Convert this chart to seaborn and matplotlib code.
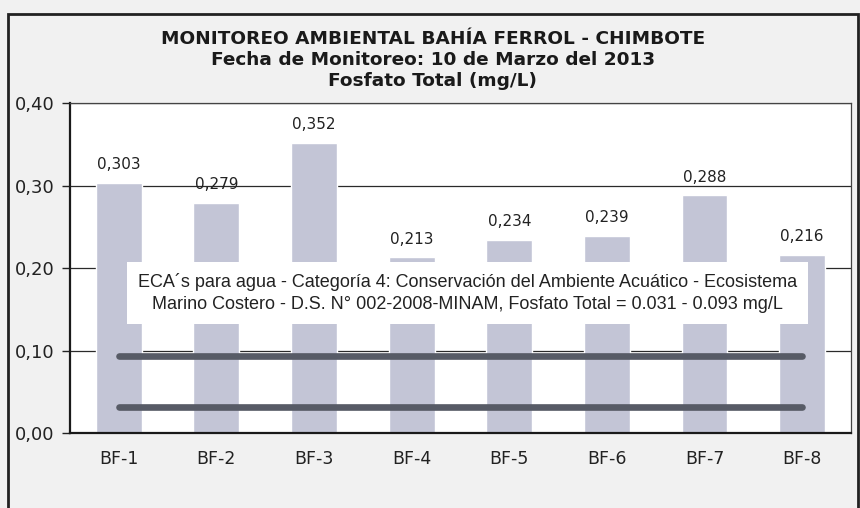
import matplotlib
matplotlib.use("Agg")
import matplotlib.pyplot as plt
from matplotlib.patches import Rectangle
from matplotlib.ticker import FixedLocator, FuncFormatter
import seaborn as sns
import pandas as pd

# station data
stations = ["BF-1", "BF-2", "BF-3", "BF-4", "BF-5", "BF-6", "BF-7", "BF-8"]
fosfato = [0.303, 0.279, 0.352, 0.213, 0.234, 0.239, 0.288, 0.216]

# ECA limits (mg/L)
eca_min = 0.031
eca_max = 0.093

y_ticks = [0.0, 0.1, 0.2, 0.3, 0.4]

title_lines = [
    "MONITOREO AMBIENTAL BAHÍA FERROL - CHIMBOTE",
    "Fecha de Monitoreo: 10 de Marzo del 2013",
    "Fosfato Total (mg/L)",
]
eca_note = (
    "ECA´s para agua - Categoría 4: Conservación del Ambiente Acuático - Ecosistema\n"
    "Marino Costero - D.S. N° 002-2008-MINAM, Fosfato Total = 0.031 - 0.093 mg/L"
)

df = pd.DataFrame({"station": stations, "fosfato": fosfato})

sns.set_style("white")
plt.rcParams["font.family"] = ["DejaVu Sans"]

fig = plt.figure(figsize=(8.6, 5.08), dpi=100, facecolor="#f1f1f1")
ax = fig.add_axes([0.0814, 0.1476, 0.9081, 0.6494])
ax.set_facecolor("white")

sns.barplot(data=df, x="station", y="fosfato", color="#c3c5d6", width=0.47,
            saturation=1, ax=ax, zorder=2)

# value labels
for i, v in enumerate(fosfato):
    ax.text(i, v + 0.013, f"{v:.3f}".replace(".", ","), ha="center", va="bottom",
            fontsize=11, color="#222222", zorder=4)

# ECA limit lines
xs = list(range(len(stations)))
for lim in [eca_max, eca_min]:
    ax.plot(xs, [lim] * len(xs), color="#575b66", lw=4.8,
            solid_capstyle="round", zorder=3)

ax.text(3.57, 0.170, eca_note, ha="center", va="center", fontsize=13,
        family="Liberation Sans", color="#222222", linespacing=1.4, zorder=5,
        bbox=dict(boxstyle="square,pad=0.6", fc="white", ec="none"))

ax.set_ylim(0, 0.4)
ax.set_xlim(-0.5, len(stations) - 0.5)
ax.yaxis.set_major_locator(FixedLocator(y_ticks))
ax.yaxis.set_major_formatter(FuncFormatter(lambda v, p: f"{v:.2f}".replace(".", ",")))
ax.grid(axis="y", color="#2a2a2a", lw=0.9, zorder=0)
ax.set_axisbelow(True)

# x ticks between categories
ax.set_xticks([i + 0.5 for i in range(-1, len(stations))], minor=True)
ax.tick_params(axis="x", which="major", length=0, pad=12, labelsize=12.5, colors="#222222")
ax.tick_params(axis="x", which="minor", length=5, width=1, direction="out", color="#222222")
ax.tick_params(axis="y", length=6, width=1, direction="out", labelsize=13,
               colors="#222222", pad=5, left=True)
ax.set_xlabel("")
ax.set_ylabel("")

for side in ["left", "bottom"]:
    ax.spines[side].set_color("#1a1a1a")
    ax.spines[side].set_linewidth(1.6)
for side in ["top", "right"]:
    ax.spines[side].set_color("#444444")
    ax.spines[side].set_linewidth(0.9)

fig.text(0.503, 0.882, "\n".join(title_lines), ha="center", va="center",
         fontsize=13.3, fontweight="bold", linespacing=1.2, color="#1a1a1a")

# outer frame of the chart area
fig.patches.append(Rectangle((0.0093, -0.05), 0.988, 1.022, transform=fig.transFigure,
                             fill=False, ec="#222222", lw=2))

fig.savefig("out.png", dpi=100, facecolor=fig.get_facecolor())
